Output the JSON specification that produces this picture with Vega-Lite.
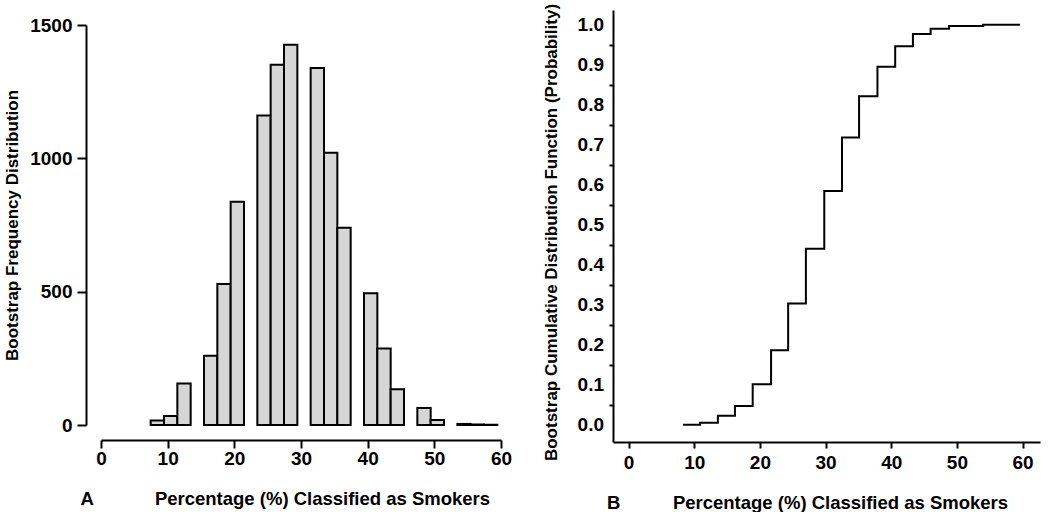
{
  "$schema": "https://vega.github.io/schema/vega-lite/v6.json",
  "background": "white",
  "padding": {"left": 3, "top": 3, "right": 5, "bottom": 5},
  "datasets": {
    "hist": [
      {"x0": 7.45, "x1": 9.45, "count": 17},
      {"x0": 9.45, "x1": 11.45, "count": 34},
      {"x0": 11.45, "x1": 13.45, "count": 156},
      {"x0": 15.45, "x1": 17.45, "count": 260},
      {"x0": 17.45, "x1": 19.45, "count": 529},
      {"x0": 19.45, "x1": 21.45, "count": 837},
      {"x0": 23.45, "x1": 25.45, "count": 1161},
      {"x0": 25.45, "x1": 27.45, "count": 1351},
      {"x0": 27.45, "x1": 29.45, "count": 1426},
      {"x0": 31.45, "x1": 33.45, "count": 1339},
      {"x0": 33.45, "x1": 35.45, "count": 1021},
      {"x0": 35.45, "x1": 37.45, "count": 740},
      {"x0": 39.45, "x1": 41.45, "count": 494},
      {"x0": 41.45, "x1": 43.45, "count": 287},
      {"x0": 43.45, "x1": 45.45, "count": 134},
      {"x0": 47.45, "x1": 49.45, "count": 64},
      {"x0": 49.45, "x1": 51.45, "count": 19},
      {"x0": 53.45, "x1": 55.45, "count": 4},
      {"x0": 55.45, "x1": 57.45, "count": 2},
      {"x0": 57.45, "x1": 59.45, "count": 1}
    ],
    "cdf": [
      {"pct": 8.3, "prob": 0.0},
      {"pct": 10.9, "prob": 0.005},
      {"pct": 13.6, "prob": 0.0225},
      {"pct": 16.2, "prob": 0.047},
      {"pct": 18.9, "prob": 0.101},
      {"pct": 21.7, "prob": 0.186},
      {"pct": 24.3, "prob": 0.303},
      {"pct": 27.0, "prob": 0.44},
      {"pct": 29.8, "prob": 0.584},
      {"pct": 32.5, "prob": 0.718},
      {"pct": 35.1, "prob": 0.821},
      {"pct": 37.9, "prob": 0.895},
      {"pct": 40.6, "prob": 0.946},
      {"pct": 43.3, "prob": 0.977},
      {"pct": 46.0, "prob": 0.99},
      {"pct": 48.8, "prob": 0.997},
      {"pct": 54.0, "prob": 1.0},
      {"pct": 59.6, "prob": 1.0}
    ]
  },
  "spacing": 112,
  "bounds": "flush",
  "hconcat": [
    {
      "width": 400,
      "height": 432,
      "data": {"name": "hist"},
      "title": {"text": "A", "orient": "bottom", "anchor": "start", "frame": "group", "dx": -20.5, "offset": -18},
      "mark": {"type": "bar", "orient": "vertical", "fill": "#d6d6d6", "stroke": "black", "strokeWidth": 2},
      "encoding": {
        "x": {
          "field": "x0", "type": "quantitative",
          "scale": {"domain": [0, 60], "nice": false, "zero": false, "padding": 0},
          "axis": {
            "title": "Percentage (%) Classified as Smokers",
            "values": [0, 10, 20, 30, 40, 50, 60],
            "offset": -2, "tickSize": 8, "labelPadding": 1,
            "titlePadding": 21, "titleX": 221, "titleFontSize": 18.5
          }
        },
        "x2": {"field": "x1"},
        "y": {
          "field": "count", "type": "quantitative",
          "scale": {"domain": [0, 1500], "nice": false, "range": [415, 15]},
          "axis": {
            "title": "Bootstrap Frequency Distribution",
            "values": [0, 500, 1000, 1500], "format": "d",
            "offset": 15, "tickSize": 9, "labelPadding": 5,
            "titlePadding": 8.5, "titleFontSize": 17
          }
        },
        "y2": {"datum": 0}
      }
    },
    {
      "width": 427,
      "height": 432,
      "data": {"name": "cdf"},
      "title": {"text": "B", "orient": "bottom", "anchor": "start", "frame": "group", "dx": -6, "offset": -18},
      "mark": {"type": "line", "interpolate": "step-after", "color": "black", "strokeWidth": 2},
      "encoding": {
        "x": {
          "field": "pct", "type": "quantitative",
          "scale": {"domain": [-2.37, 62.65], "nice": false, "zero": false},
          "axis": {
            "title": "Percentage (%) Classified as Smokers",
            "values": [0, 10, 20, 30, 40, 50, 60],
            "tickSize": 6, "labelPadding": 5.5,
            "titlePadding": 21, "titleX": 227, "titleFontSize": 18.5
          }
        },
        "y": {
          "field": "prob", "type": "quantitative",
          "scale": {"domain": [-0.0433, 1.0368], "nice": false, "zero": false},
          "axis": {
            "title": "Bootstrap Cumulative Distribution Function (Probability)",
            "values": [0, 0.05, 0.1, 0.15, 0.2, 0.25, 0.3, 0.35, 0.4, 0.45, 0.5, 0.55, 0.6, 0.65, 0.7, 0.75, 0.8, 0.85, 0.9, 0.95, 1.0],
            "labelExpr": "round(datum.value * 100) % 10 == 5 ? '' : format(datum.value, '.1f')",
            "tickColor": {"condition": {"test": "round(datum.value * 100) % 10 == 5", "value": "black"}, "value": "transparent"},
            "tickSize": 4, "labelPadding": 5.5,
            "titlePadding": 16.5, "titleY": 222, "titleFontSize": 17
          }
        }
      }
    }
  ],
  "config": {
    "view": {"stroke": null},
    "axis": {
      "grid": false,
      "domainColor": "black", "domainWidth": 2,
      "tickColor": "black", "tickWidth": 2,
      "labelFont": "Liberation Sans", "labelFontWeight": "bold", "labelFontSize": 19, "labelColor": "black",
      "labelFlush": false, "labelOverlap": false,
      "titleFont": "Liberation Sans", "titleFontWeight": "bold", "titleColor": "black"
    },
    "title": {"font": "Liberation Sans", "fontSize": 18.5, "fontWeight": "bold", "color": "black"}
  }
}
